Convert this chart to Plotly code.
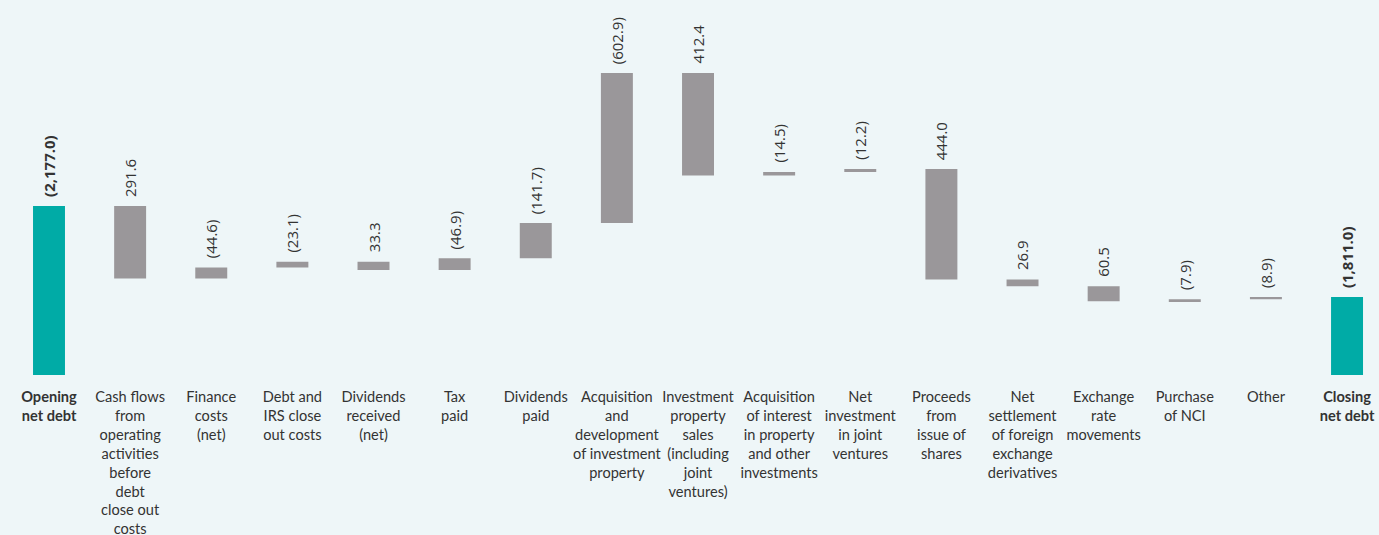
import plotly.graph_objects as go

categories = [
    "<b>Opening<br>net debt</b>",
    "Cash flows<br>from<br>operating<br>activities<br>before<br>debt<br>close out<br>costs",
    "Finance<br>costs<br>(net)",
    "Debt and<br>IRS close<br>out costs",
    "Dividends<br>received<br>(net)",
    "Tax<br>paid",
    "Dividends<br>paid",
    "Acquisition<br>and<br>development<br>of investment<br>property",
    "Investment<br>property<br>sales<br>(including<br>joint<br>ventures)",
    "Acquisition<br>of interest<br>in property<br>and other<br>investments",
    "Net<br>investment<br>in joint<br>ventures",
    "Proceeds<br>from<br>issue of<br>shares",
    "Net<br>settlement<br>of foreign<br>exchange<br>derivatives",
    "Exchange<br>rate<br>movements",
    "Purchase<br>of NCI",
    "Other",
    "<b>Closing<br>net debt</b>",
]

opening_net_debt = 2177.0
# change in net debt (positive = increase in debt, shown in brackets)
changes = [-291.6, 44.6, 23.1, -33.3, 46.9, 141.7, 602.9, -412.4,
           14.5, 12.2, -444.0, -26.9, -60.5, 7.9, 8.9]
closing_net_debt = 1811.0

TEAL = "#00ABA6"
GREY = "#9A979A"
BG = "#EEF6F8"
TXT = "#333333"

def fmt(v):
    return f"{abs(v):,.1f}"

bases, heights, texts, colors = [], [], [], []
bases.append(0)
heights.append(opening_net_debt)
texts.append(f"<b>({fmt(opening_net_debt)})</b>")
colors.append(TEAL)
level = opening_net_debt
for c in changes:
    new = level + c
    bases.append(min(level, new))
    heights.append(abs(c))
    texts.append(f"({fmt(c)})" if c > 0 else fmt(c))
    colors.append(GREY)
    level = new
bases.append(0)
heights.append(closing_net_debt)
texts.append(f"<b>({fmt(closing_net_debt)})</b>")
colors.append(TEAL)

xs = list(range(len(categories)))
tops = [b + h for b, h in zip(bases, heights)]

fig = go.Figure(go.Bar(
    x=xs, y=heights, base=bases,
    marker=dict(color=colors, line=dict(width=0)),
    width=0.394,
    hoverinfo="skip",
))

for x, t, txt in zip(xs, tops, texts):
    fig.add_annotation(
        x=x, y=t, text=txt, textangle=-90,
        xanchor="center", yanchor="bottom", yshift=7,
        showarrow=False,
        font=dict(family="Open Sans", size=15, color=TXT),
    )

fig.update_layout(
    width=1379, height=535,
    margin=dict(l=0, r=0, t=0, b=160),
    paper_bgcolor=BG, plot_bgcolor=BG,
    showlegend=False,
    font=dict(family="Lato", size=14.6, color=TXT),
    xaxis=dict(
        tickvals=xs, ticktext=categories,
        range=[-0.604, 16.394],
        tickangle=0,
        ticklabelstandoff=11,
        showgrid=False, zeroline=False, showline=False, ticks="",
        tickfont=dict(family="Lato", size=14.6, color=TXT),
        automargin=False,
    ),
    yaxis=dict(visible=False, range=[1498, 3004], fixedrange=True),
)

fig.write_html(
    "out.html",
    config={"displayModeBar": False},
    post_script="document.body.style.margin='0';document.body.style.background='" + BG + "';",
)
